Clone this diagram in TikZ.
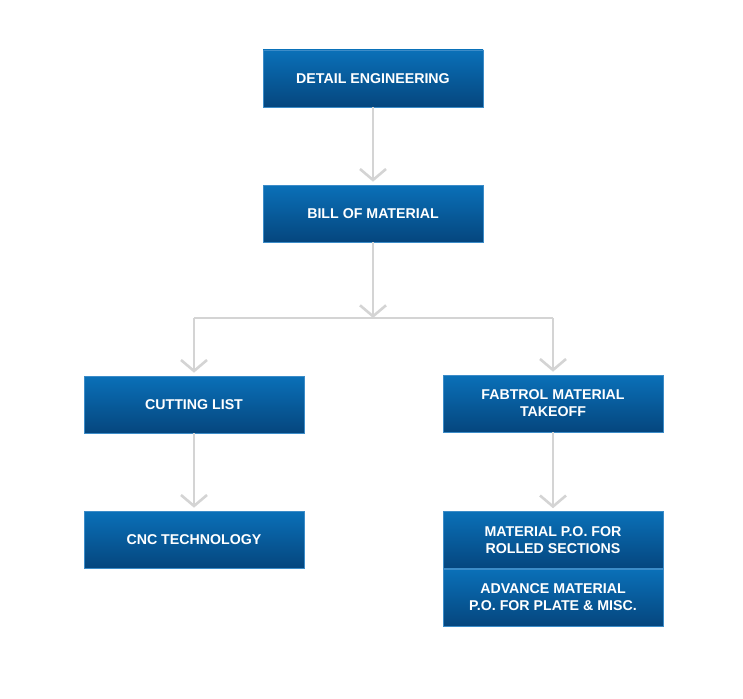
\documentclass[tikz,border=0pt]{standalone}
\usepackage{fontspec}
\setmainfont{Liberation Sans}
\usetikzlibrary{arrows.meta}
\definecolor{boxtop}{RGB}{10,112,184}
\definecolor{boxbot}{RGB}{5,70,126}
\definecolor{boxedge}{RGB}{60,140,200}
\definecolor{linkgray}{RGB}{212,212,212}
\tikzset{
  stepbox/.style={draw=boxedge,line width=0.6pt,top color=boxtop,bottom color=boxbot,
    minimum width=220pt,minimum height=57pt,inner sep=0pt,text=white,align=center,
    font=\fontsize{14.2}{16.8}\selectfont\bfseries},
  link/.style={draw=linkgray,line width=2.6pt,
    -{Straight Barb[length=11pt,width=26pt,line width=2.6pt]}}
}
\begin{document}
\begin{tikzpicture}[x=1pt,y=-1pt]
\useasboundingbox (0,0) rectangle (743,698);
\node[stepbox] (det) at (373,78.5) {DETAIL ENGINEERING};
\node[stepbox] (bom) at (373,213.5) {BILL OF MATERIAL};
\node[stepbox] (cut) at (194,404.5) {CUTTING LIST};
\node[stepbox] (fab) at (553,403.5) {FABTROL MATERIAL\\TAKEOFF};
\node[stepbox] (cnc) at (194,539.5) {CNC TECHNOLOGY};
\node[stepbox] (mpo) at (553,540) {MATERIAL P.O. FOR\\ROLLED SECTIONS};
\node[stepbox] (adv) at (553,597.5) {ADVANCE MATERIAL\\P.O. FOR PLATE \& MISC.};
\coordinate (join) at (373,318);
\coordinate (joinl) at (194,318);
\coordinate (joinr) at (553,318);

\draw[link,shorten >=3pt] (det) to (bom);
\draw[link] (bom) to (join);
\draw[draw=linkgray,line width=2.6pt] (joinl) to (joinr);
\draw[link,shorten >=3pt] (joinl) to (cut);
\draw[link,shorten >=3pt] (joinr) to (fab);
\draw[link,shorten >=3pt] (cut) to (cnc);
\draw[link,shorten >=3pt] (fab) to (mpo);
\end{tikzpicture}
\end{document}
